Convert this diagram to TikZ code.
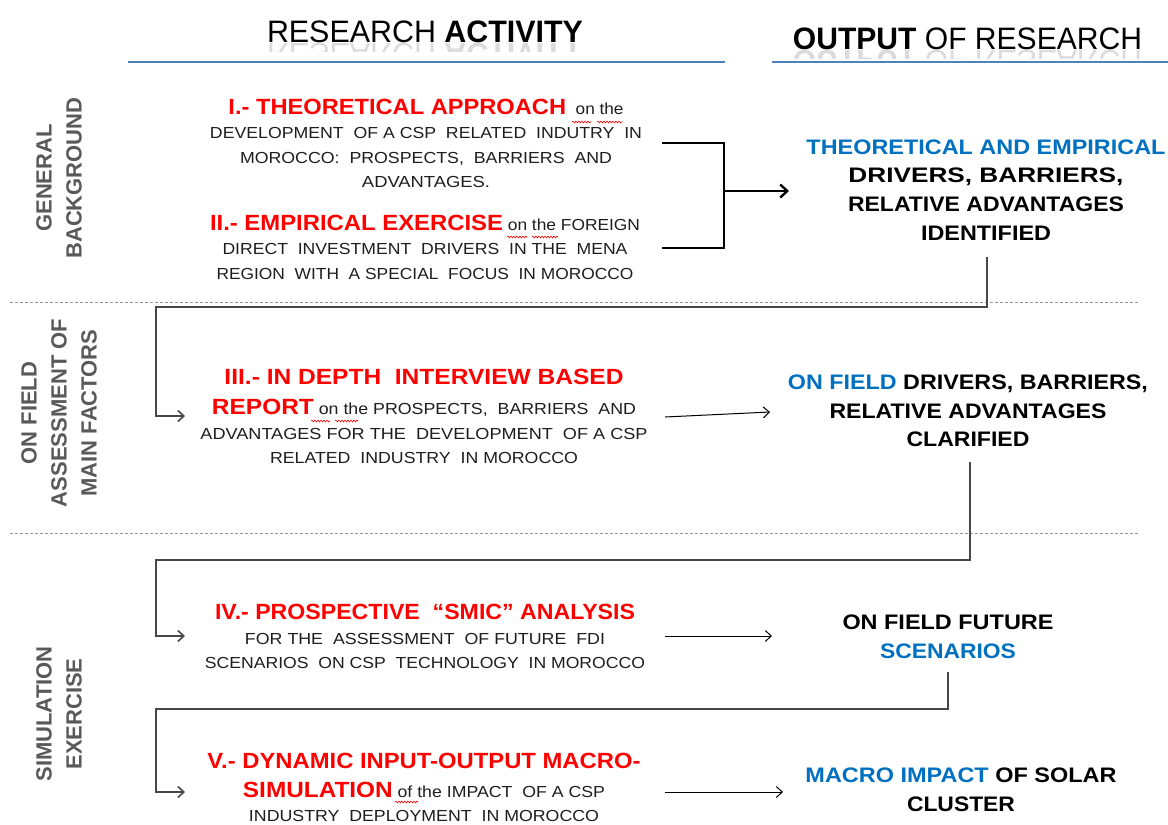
\documentclass[tikz,border=0pt]{standalone}
\usepackage{fontspec}
\setmainfont{Liberation Sans}
\usepackage{graphicx}
\usetikzlibrary{arrows.meta,decorations.pathmorphing}
\definecolor{myblue}{RGB}{0,112,192}
\definecolor{lineblue}{RGB}{79,129,189}
\definecolor{labgray}{RGB}{89,89,89}
\definecolor{txt}{RGB}{30,30,30}
\definecolor{conngray}{RGB}{72,72,72}
\definecolor{dashgray}{RGB}{150,150,150}
\newcommand{\Ln}[2]{\resizebox{#1pt}{\height}{#2}}
\newcommand{\Rd}[1]{{\fontsize{22}{24}\selectfont\bfseries\color{red}#1}}
\newcommand{\Bl}[1]{{\color{myblue}#1}}
\begin{document}
\begin{tikzpicture}[x=1pt,y=-1pt,
  act/.style={align=center, text=txt, font=\fontsize{16}{24.5}\selectfont, inner sep=0pt},
  outp/.style={align=center, text=black, font=\fontsize{21}{28.7}\selectfont\bfseries, inner sep=0pt},
  side/.style={align=center, text=labgray, font=\fontsize{22}{30}\selectfont\bfseries, rotate=90, inner sep=0pt},
  head/.style={inner sep=0pt, anchor=base, font=\fontsize{31}{34}\selectfont},
  conn/.style={draw=conngray, line width=1.8pt, -{Straight Barb[length=6pt,width=11pt,line width=1.6pt]}},
  arr/.style={draw=black, line width=1pt, -{Straight Barb[length=6pt,width=11pt]}},
  bracket/.style={draw=black, line width=1.6pt},
  bigarr/.style={draw=black, line width=2.4pt, -{Straight Barb[length=7pt,width=13pt]}},
  sep/.style={draw=dashgray, dash pattern=on 3pt off 2pt, line width=0.8pt},
  hline/.style={draw=lineblue, line width=1.3pt},
  squig/.style={draw=red, line width=0.6pt, decorate, decoration={snake, amplitude=0.9pt, segment length=3pt}}]
\useasboundingbox (0,0) rectangle (1168,825);
\fill[white] (0,0) rectangle (1168,825);

% headers
\node[head] (h1) at (425,42) {\Ln{316}{RESEARCH \textbf{ACTIVITY}}};
\node[head] (h2) at (967.5,49) {\Ln{349}{\textbf{OUTPUT} OF RESEARCH}};
\begin{scope}
\clip (250,43) rectangle (600,51);
\node[head, yscale=-1, text=black!14] (h1r) at (425,43) {\Ln{316}{RESEARCH \textbf{ACTIVITY}}};
\end{scope}
\begin{scope}
\clip (780,50) rectangle (1160,58);
\node[head, yscale=-1, text=black!14] (h2r) at (967.5,50) {\Ln{349}{\textbf{OUTPUT} OF RESEARCH}};
\end{scope}
\draw[hline] (128,62) -- (725,62);
\draw[hline] (772,62) -- (1168,62);

% separators
\draw[sep] (10,302) -- (1138,302);
\draw[sep] (10,533) -- (1140,533);

% side labels
\node[side] (s1) at (59,178) {GENERAL\\BACKGROUND};
\node[side] (s2) at (59,413) {ON FIELD\\ASSESSMENT OF\\MAIN FACTORS};
\node[side] (s3) at (59,714) {SIMULATION\\EXERCISE};

% activity blocks
\node[act] (b1) at (426,143.5) {\Ln{395}{\Rd{I.- THEORETICAL APPROACH}\ \ on the}\\
  \Ln{432}{DEVELOPMENT\ \ OF A CSP\ \ RELATED\ \ INDUTRY\ \ IN}\\
  \Ln{372}{MOROCCO:\ \ PROSPECTS,\ \ BARRIERS\ \ AND}\\
  \Ln{128}{ADVANTAGES.}};
\node[act] (b2) at (425,247) {\Ln{430}{\Rd{II.- EMPIRICAL EXERCISE}\ on the FOREIGN}\\
  \Ln{405}{DIRECT\ \ INVESTMENT\ \ DRIVERS\ \ IN THE\ \ MENA}\\
  \Ln{417}{REGION\ \ WITH\ \ A SPECIAL\ \ FOCUS\ \ IN MOROCCO}};
\node[act] (b3) at (424,416.5) {\Ln{399}{\Rd{III.- IN DEPTH\ \ INTERVIEW BASED}}\\[5.5pt]
  \Ln{424}{\Rd{REPORT}\ on the PROSPECTS,\ \ BARRIERS\ \ AND}\\
  \Ln{447}{ADVANTAGES FOR THE\ \ DEVELOPMENT\ \ OF A CSP}\\
  \Ln{308}{RELATED\ \ INDUSTRY\ \ IN MOROCCO}};
\node[act] (b4) at (425,636.5) {\Ln{420}{\Rd{IV.- PROSPECTIVE \ “SMIC” ANALYSIS}}\\
  \Ln{360}{FOR THE\ \ ASSESSMENT\ \ OF FUTURE\ \ FDI}\\
  \Ln{440}{SCENARIOS\ \ ON CSP\ \ TECHNOLOGY\ \ IN MOROCCO}};
\node[act] (b5) at (424,787.5) {\Ln{433}{\Rd{V.- DYNAMIC INPUT-OUTPUT MACRO-}}\\[4.5pt]
  \Ln{362}{\Rd{SIMULATION}\ of the IMPACT\ \ OF A CSP}\\
  \Ln{350}{INDUSTRY\ \ DEPLOYMENT\ \ IN MOROCCO}};

% spell-check squiggles
\draw[squig] (572,122) -- (591,122);
\draw[squig] (597,122) -- (622,122);
\draw[squig] (507,237) -- (527,237);
\draw[squig] (532,237) -- (558,237);
\draw[squig] (311,421) -- (330,421);
\draw[squig] (335,421) -- (358,421);
\draw[squig] (395,802) -- (418,802);

% output blocks
\node[outp] (o1) at (986,190) {\Ln{359}{\Bl{THEORETICAL AND EMPIRICAL}}\\
  \Ln{275}{DRIVERS, BARRIERS,}\\
  \Ln{276}{RELATIVE ADVANTAGES}\\
  \Ln{130}{IDENTIFIED}};
\node[outp] (o2) at (968,411) {\Ln{360}{\Bl{ON FIELD} DRIVERS, BARRIERS,}\\
  \Ln{277}{RELATIVE ADVANTAGES}\\
  \Ln{123}{CLARIFIED}};
\node[outp] (o3) at (948,636.5) {\Ln{211}{ON FIELD FUTURE}\\
  \Ln{136}{\Bl{SCENARIOS}}};
\node[outp] (o4) at (961,789.5) {\Ln{311}{\Bl{MACRO IMPACT} OF SOLAR}\\
  \Ln{108}{CLUSTER}};

% connector coordinates
\coordinate (j1) at (662,143);
\coordinate (j2) at (662,248);
\coordinate (jm) at (724,191);
\coordinate (e1) at (789,191);
\coordinate (f1) at (987,257);
\coordinate (k1) at (156,307);
\coordinate (t3) at (185,416);
\coordinate (a3) at (665,417);
\coordinate (e3) at (770,412);
\coordinate (f2) at (970,462);
\coordinate (k2) at (156,560);
\coordinate (t4) at (185,636);
\coordinate (a4) at (665,636);
\coordinate (e4) at (772,636);
\coordinate (f3) at (948,672);
\coordinate (k3) at (156,709);
\coordinate (t5) at (185,792);
\coordinate (a5) at (665,792);
\coordinate (e5) at (783,792);

% connectors
\draw[bracket] (j1) -| (jm) |- (j2);
\draw[bigarr] (jm) -- (e1);
\draw[conn] (f1) |- (k1) |- (t3);
\draw[arr] (a3) -- (e3);
\draw[conn] (f2) |- (k2) |- (t4);
\draw[arr] (a4) -- (e4);
\draw[conn] (f3) |- (k3) |- (t5);
\draw[arr] (a5) -- (e5);
\end{tikzpicture}
\end{document}
